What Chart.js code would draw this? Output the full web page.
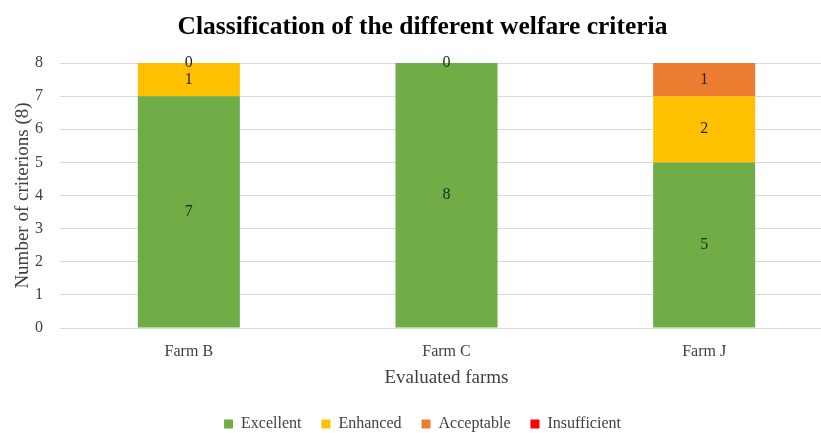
<!DOCTYPE html>
<html>
<head>
<meta charset="utf-8">
<script src="https://cdn.jsdelivr.net/npm/chart.js@4"></script>
<style>
html,body{margin:0;padding:0;background:#fff;overflow:hidden;}
#wrap{width:834px;height:442px;}
</style>
</head>
<body>
<div id="wrap"><canvas id="c" width="834" height="442"></canvas></div>
<script>
const categories = ["Farm B", "Farm C", "Farm J"];
const excellent = [7, 8, 5];
const enhanced = [1, 0, 2];
const acceptable = [0, null, 1];
const insufficient = [null, null, null];
const seriesNames = ["Excellent", "Enhanced", "Acceptable", "Insufficient"];
const seriesColors = ["#70AD47", "#FFC000", "#ED7D31", "#FF0000"];
const yTicks = [0, 1, 2, 3, 4, 5, 6, 7, 8];

const FONT = "'Liberation Serif', 'DejaVu Serif', serif";

const labelPlugin = {
  id: 'segLabels',
  afterDatasetsDraw(chart) {
    const ctx = chart.ctx;
    ctx.save();
    ctx.font = "16px " + FONT;
    ctx.fillStyle = "#262626";
    ctx.textAlign = "center";
    ctx.textBaseline = "middle";
    chart.data.datasets.forEach((ds, di) => {
      const meta = chart.getDatasetMeta(di);
      meta.data.forEach((el, i) => {
        const v = ds.data[i];
        if (v === null || v === undefined) return;
        const p = el.getProps(['x', 'y', 'base'], true);
        ctx.fillText(String(v), p.x, (p.y + p.base) / 2);
      });
    });
    ctx.restore();
  }
};

const data = {
  labels: categories,
  datasets: [excellent, enhanced, acceptable, insufficient].map((d, i) => ({
    label: seriesNames[i],
    data: d,
    backgroundColor: seriesColors[i],
    borderWidth: 0,
    barPercentage: 1,
    categoryPercentage: 0.396
  }))
};

new Chart(document.getElementById('c'), {
  type: 'bar',
  data: data,
  plugins: [labelPlugin],
  options: {
    responsive: false,
    animation: false,
    devicePixelRatio: 1,
    layout: { padding: { left: 12, right: 1, top: 0, bottom: 0 } },
    plugins: {
      title: {
        display: true,
        text: "Classification of the different welfare criteria",
        font: { family: FONT, size: 25.5, weight: 'bold' },
        color: "#000",
        padding: { top: 12, bottom: 20.4 }
      },
      legend: {
        position: 'bottom',
        labels: {
          font: { family: FONT, size: 16 },
          color: "#404040",
          boxWidth: 9,
          boxHeight: 9,
          padding: 20
        }
      },
      tooltip: { enabled: false }
    },
    scales: {
      x: {
        stacked: true,
        grid: { display: false, drawTicks: false },
        border: { display: false },
        ticks: { font: { family: FONT, size: 16 }, color: "#404040", padding: 14 },
        title: {
          display: true,
          text: "Evaluated farms",
          font: { family: FONT, size: 19 },
          color: "#404040",
          padding: { top: 5, bottom: 6.6 }
        },
        afterFit(axis) { axis.height = 68; }
      },
      y: {
        stacked: true,
        min: 0,
        max: 8,
        afterBuildTicks(axis) { axis.ticks = yTicks.map(v => ({ value: v })); },
        grid: { color: "#D9D9D9", lineWidth: 1, drawTicks: false },
        border: { display: false },
        ticks: { font: { family: FONT, size: 16 }, color: "#404040", padding: 17 },
        title: {
          display: true,
          text: "Number of criterions (8)",
          font: { family: FONT, size: 19 },
          color: "#404040",
          padding: { top: 0, bottom: 0 }
        },
        afterFit(axis) { axis.width = 48; }
      }
    }
  }
});
</script>
</body>
</html>
